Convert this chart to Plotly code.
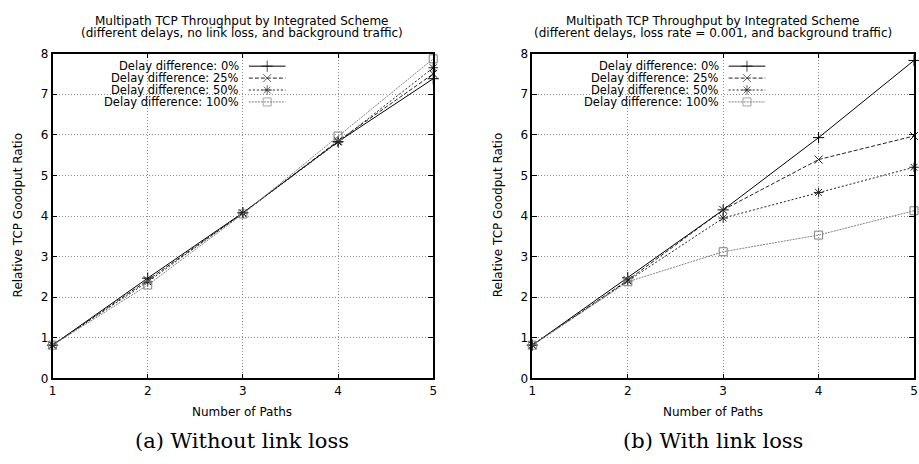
import plotly.graph_objects as go

W, H = 919, 464

paths = [1, 2, 3, 4, 5]
series_names = ["Delay difference: 0%", "Delay difference: 25%",
                "Delay difference: 50%", "Delay difference: 100%"]

# (a) Without link loss
a_0 = [0.82, 2.47, 4.08, 5.83, 7.38]
a_25 = [0.82, 2.42, 4.07, 5.85, 7.50]
a_50 = [0.82, 2.38, 4.07, 5.82, 7.65]
a_100 = [0.82, 2.30, 4.05, 5.97, 7.87]

# (b) With link loss
b_0 = [0.82, 2.48, 4.15, 5.93, 7.83]
b_25 = [0.82, 2.42, 4.15, 5.39, 5.97]
b_50 = [0.82, 2.40, 3.95, 4.58, 5.20]
b_100 = [0.82, 2.38, 3.12, 3.53, 4.13]

x_ticks = [1, 2, 3, 4, 5]
y_ticks = [0, 1, 2, 3, 4, 5, 6, 7, 8]

titles = [("Multipath TCP Throughput by Integrated Scheme",
           "(different delays, no link loss, and background traffic)"),
          ("Multipath TCP Throughput by Integrated Scheme",
           "(different delays, loss rate = 0.001, and background traffic)")]
captions = ["(a) Without link loss", "(b) With link loss"]
x_title = "Number of Paths"
y_title = "Relative TCP Goodput Ratio"

styles = [
    dict(color="black", dash="solid", symbol="cross-thin-open"),
    dict(color="#222222", dash="4px,2px", symbol="x-thin-open"),
    dict(color="#222222", dash="2px,2px", symbol="asterisk-open"),
    dict(color="#808080", dash="2px,1px", symbol="square-open"),
]

FONT = "DejaVu Sans"

# pixel layout
panels = [dict(x0=49, x1=433, cx=240), dict(x0=533, x1=918, cx=715)]
py0, py1 = 48, 383

fig = go.Figure()

data_sets = [[a_0, a_25, a_50, a_100], [b_0, b_25, b_50, b_100]]

for p, (panel, data) in enumerate(zip(panels, data_sets)):
    xa = "x" if p == 0 else "x2"
    ya = "y" if p == 0 else "y2"
    for name, vals, st in zip(series_names, data, styles):
        fig.add_trace(go.Scatter(
            x=paths, y=vals, mode="lines+markers", name=name,
            xaxis=xa, yaxis=ya, showlegend=False, cliponaxis=False,
            line=dict(color=st["color"], width=1, dash=st["dash"]),
            marker=dict(symbol=st["symbol"], size=8, color=st["color"],
                        line=dict(color=st["color"], width=1)),
        ))

# legend drawn gnuplot-style (text, then sample) on a full-page pixel axis
for p, panel in enumerate(panels):
    text_right = panel["x0"] + 190
    s0, s1 = text_right + 8, text_right + 45
    for i, (name, st) in enumerate(zip(series_names, styles)):
        yy = 61 + i * 12.3
        fig.add_trace(go.Scatter(
            x=[s0, (s0 + s1) / 2, s1], y=[yy, yy, yy], mode="lines+markers",
            xaxis="x3", yaxis="y3", showlegend=False, hoverinfo="skip",
            line=dict(color=st["color"], width=1, dash=st["dash"]),
            marker=dict(symbol=st["symbol"], size=[0, 8, 0], color=st["color"],
                        line=dict(color=st["color"], width=1)),
        ))
        fig.add_annotation(x=text_right / W, y=1 - yy / H, xref="paper", yref="paper",
                           text=name, showarrow=False, xanchor="right", yanchor="middle",
                           font=dict(family=FONT, size=11.5, color="black"))

def dom_x(panel):
    return [panel["x0"] / W, panel["x1"] / W]

ydom = [1 - py1 / H, 1 - py0 / H]

axis_common = dict(
    showline=True, linecolor="black", linewidth=1.5, mirror="ticks",
    ticks="inside", ticklen=5, tickcolor="black", tickwidth=1,
    showgrid=True, gridcolor="#8a8a8a", griddash="1px,2px", gridwidth=1,
    zeroline=False, tickfont=dict(family=FONT, size=12, color="black"),
)

fig.update_layout(
    width=W, height=H, margin=dict(l=0, r=0, t=0, b=0),
    paper_bgcolor="white", plot_bgcolor="rgba(0,0,0,0)", showlegend=False,
    xaxis=dict(domain=dom_x(panels[0]), range=[1, 5], tickvals=x_ticks, anchor="y", **axis_common),
    yaxis=dict(domain=ydom, range=[0, 8], tickvals=y_ticks, anchor="x", **axis_common),
    xaxis2=dict(domain=dom_x(panels[1]), range=[1, 5], tickvals=x_ticks, anchor="y2", **axis_common),
    yaxis2=dict(domain=ydom, range=[0, 8], tickvals=y_ticks, anchor="x2", **axis_common),
    xaxis3=dict(domain=[0, 1], range=[0, W], visible=False, anchor="y3"),
    yaxis3=dict(domain=[0, 1], range=[H, 0], visible=False, anchor="x3"),
)

for p, panel in enumerate(panels):
    cx = panel["cx"] / W
    fig.add_annotation(x=cx, y=1 - 14 / H, xref="paper", yref="paper", text=titles[p][0],
                       showarrow=False, xanchor="center", yanchor="middle",
                       font=dict(family=FONT, size=12, color="black"))
    fig.add_annotation(x=cx, y=1 - 27 / H, xref="paper", yref="paper", text=titles[p][1],
                       showarrow=False, xanchor="center", yanchor="middle",
                       font=dict(family=FONT, size=12, color="black"))
    fig.add_annotation(x=cx, y=1 - 418 / H, xref="paper", yref="paper", text=x_title,
                       showarrow=False, xanchor="center", yanchor="middle",
                       font=dict(family=FONT, size=12, color="black"))
    fig.add_annotation(x=(panel["x0"] - 35) / W, y=1 - 215 / H, xref="paper", yref="paper",
                       text=y_title, textangle=-90, showarrow=False,
                       xanchor="center", yanchor="middle",
                       font=dict(family=FONT, size=12, color="black"))
    fig.add_annotation(x=cx, y=1 - 448 / H, xref="paper", yref="paper", text=captions[p],
                       showarrow=False, xanchor="center", yanchor="middle",
                       font=dict(family="DejaVu Serif", size=21, color="black"))

fig.write_html("out.html")
